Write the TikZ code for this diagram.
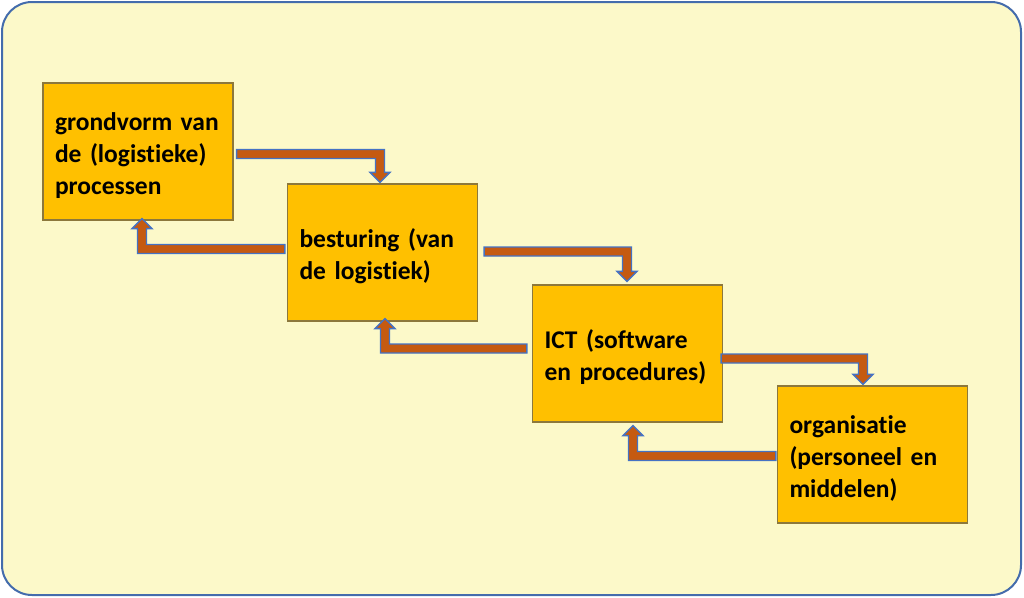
\documentclass[tikz,border=0pt]{standalone}
\usepackage{fontspec}
\setmainfont{Carlito}[Ligatures=NoCommon]
\usetikzlibrary{calc}
\definecolor{bg}{RGB}{252,249,201}
\definecolor{framecol}{RGB}{68,108,172}
\definecolor{boxfill}{RGB}{255,192,0}
\definecolor{boxline}{RGB}{140,120,60}
\definecolor{arrfill}{RGB}{197,90,17}
\definecolor{arrline}{RGB}{68,114,196}
\newcommand\topstrut{\rule{0pt}{25.5pt}}
\tikzset{
  stepbox/.style={draw=boxline, fill=boxfill, line width=1.2pt,
    minimum width=190pt, minimum height=137pt, text width=166pt,
    inner sep=12pt, align=left,
    font=\fontsize{25.5}{32}\selectfont\bfseries},
  arrowshape/.style={draw=arrline, fill=arrfill, line width=1.4pt, line join=miter}
}
\newcommand\bentarrow[4]{%
  \draw[arrowshape] let \p1=#1, \p2=#2 in
  (\x1,{\y1-(#4)*4.5pt}) -- ({\x2+(#3)*4.5pt},{\y1-(#4)*4.5pt})
  -- ({\x2+(#3)*4.5pt},{\y2-(#4)*10pt}) -- ({\x2+(#3)*10pt},{\y2-(#4)*10pt})
  -- (\x2,\y2) -- ({\x2-(#3)*10pt},{\y2-(#4)*10pt})
  -- ({\x2-(#3)*4.5pt},{\y2-(#4)*10pt}) -- ({\x2-(#3)*4.5pt},{\y1+(#4)*4.5pt})
  -- (\x1,{\y1+(#4)*4.5pt}) -- cycle;}
\begin{document}
\begin{tikzpicture}[x=1pt,y=-1pt]
\useasboundingbox (0,0) rectangle (1024,597);
\draw[draw=framecol, fill=bg, line width=2pt, rounded corners=30pt] (2,2) rectangle (1021,595);
\node[stepbox] (b1) at (138,151.5) {\topstrut grondvorm van\\de (logistieke)\\processen};
\node[stepbox] (b2) at (382.5,252.5) {\topstrut besturing (van\\de logistiek)};
\node[stepbox] (b3) at (627.5,353.5) {\topstrut ICT (software\\en procedures)};
\node[stepbox] (b4) at (872.5,454.5) {\topstrut organisatie\\(personeel en\\middelen)};
\bentarrow{([xshift=3pt,yshift=-2.5pt]b1.east)}{([xshift=-2.5pt,yshift=1pt]b2.north)}{1}{-1}
\bentarrow{([xshift=-2pt,yshift=3.5pt]b2.west)}{([xshift=4pt,yshift=2pt]b1.south)}{-1}{1}
\bentarrow{([xshift=6pt,yshift=1pt]b2.east)}{([xshift=-0.5pt,yshift=3pt]b3.north)}{1}{-1}
\bentarrow{([xshift=-5pt,yshift=5pt]b3.west)}{([xshift=2.5pt,yshift=3pt]b2.south)}{-1}{1}
\bentarrow{([xshift=-2pt,yshift=-5pt]b3.east)}{([xshift=-9.5pt,yshift=1pt]b4.north)}{1}{-1}
\bentarrow{([xshift=-1pt,yshift=-1.5pt]b4.west)}{([xshift=5.5pt,yshift=-3pt]b3.south)}{-1}{1}
\end{tikzpicture}
\end{document}
